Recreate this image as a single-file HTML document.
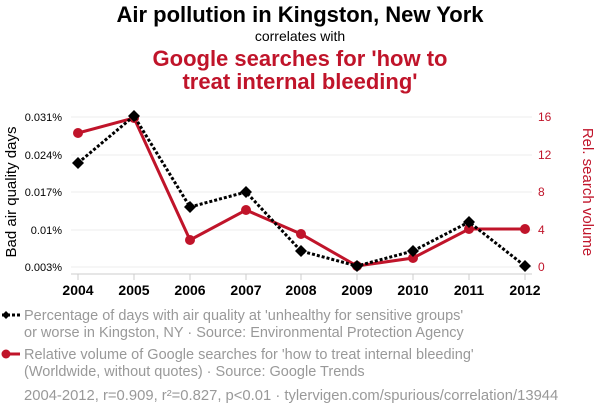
<!DOCTYPE html><html><head><style>body{margin:0;background:#fff;font-family:"Liberation Sans",sans-serif}</style></head><body>
<svg width="600" height="414" xmlns="http://www.w3.org/2000/svg" font-family="Liberation Sans, sans-serif">
<text x="300" y="22" font-size="22" font-weight="bold" text-anchor="middle">Air pollution in Kingston, New York</text>
<text x="300" y="41" font-size="14" text-anchor="middle">correlates with</text>
<text x="300" y="66" font-size="22" font-weight="bold" fill="#c0142a" text-anchor="middle">Google searches for 'how to</text>
<text x="300" y="89" font-size="22" font-weight="bold" fill="#c0142a" text-anchor="middle">treat internal bleeding'</text>
<g stroke="#eee" stroke-width="1"><line x1="71" x2="532" y1="117" y2="117"/><line x1="71" x2="532" y1="155" y2="155"/><line x1="71" x2="532" y1="192" y2="192"/><line x1="71" x2="532" y1="230" y2="230"/><line x1="71" x2="532" y1="267" y2="267"/></g>
<line x1="71" x2="532" y1="274" y2="274" stroke="#ccc"/>
<g stroke="#ccc"><line x1="78" x2="78" y1="274" y2="280"/><line x1="134" x2="134" y1="274" y2="280"/><line x1="190" x2="190" y1="274" y2="280"/><line x1="246" x2="246" y1="274" y2="280"/><line x1="301" x2="301" y1="274" y2="280"/><line x1="357" x2="357" y1="274" y2="280"/><line x1="413" x2="413" y1="274" y2="280"/><line x1="469" x2="469" y1="274" y2="280"/><line x1="525" x2="525" y1="274" y2="280"/></g>
<g font-size="14" font-weight="bold" text-anchor="middle"><text x="78" y="295">2004</text><text x="134" y="295">2005</text><text x="190" y="295">2006</text><text x="246" y="295">2007</text><text x="301" y="295">2008</text><text x="357" y="295">2009</text><text x="413" y="295">2010</text><text x="469" y="295">2011</text><text x="525" y="295">2012</text></g>
<g font-size="11" text-anchor="end"><text x="62" y="121">0.031%</text><text x="62" y="159">0.024%</text><text x="62" y="196">0.017%</text><text x="62" y="234">0.01%</text><text x="62" y="271">0.003%</text></g>
<g font-size="12" fill="#c0142a"><text x="538" y="121">16</text><text x="538" y="159">12</text><text x="538" y="196">8</text><text x="538" y="234">4</text><text x="538" y="271">0</text></g>
<text transform="translate(16,192) rotate(-90)" font-size="15" text-anchor="middle">Bad air quality days</text>
<text transform="translate(583,192) rotate(90)" font-size="15" fill="#c0142a" text-anchor="middle">Rel. search volume</text>
<polyline fill="none" stroke="#c0142a" stroke-width="3" points="78,133 134,118 190,240 246,210 301,234 357,266 413,258 469,229 525,229"/>
<g fill="#c0142a"><circle cx="78" cy="133" r="5"/><circle cx="134" cy="118" r="5"/><circle cx="190" cy="240" r="5"/><circle cx="246" cy="210" r="5"/><circle cx="301" cy="234" r="5"/><circle cx="357" cy="266" r="5"/><circle cx="413" cy="258" r="5"/><circle cx="469" cy="229" r="5"/><circle cx="525" cy="229" r="5"/></g>
<polyline fill="none" stroke="#000" stroke-width="3" stroke-dasharray="3,2" points="78,163 134,116 190,207 246,192 301,251 357,266 413,251 469,222 525,266"/>
<g fill="#000"><path d="M78,157l6,6-6,6-6-6z"/><path d="M134,110l6,6-6,6-6-6z"/><path d="M190,201l6,6-6,6-6-6z"/><path d="M246,186l6,6-6,6-6-6z"/><path d="M301,245l6,6-6,6-6-6z"/><path d="M357,260l6,6-6,6-6-6z"/><path d="M413,245l6,6-6,6-6-6z"/><path d="M469,216l6,6-6,6-6-6z"/><path d="M525,260l6,6-6,6-6-6z"/></g>
<line x1="2" x2="20" y1="315" y2="315" stroke="#000" stroke-width="3" stroke-dasharray="3,2"/><path d="M6,311l4,4-4,4-4-4z"/>
<g font-size="14.5" fill="#999"><text x="24" y="320">Percentage of days with air quality at 'unhealthy for sensitive groups'</text><text x="24" y="337">or worse in Kingston, NY · Source: Environmental Protection Agency</text>
<text x="24" y="359">Relative volume of Google searches for 'how to treat internal bleeding'</text><text x="24" y="376">(Worldwide, without quotes) · Source: Google Trends</text>
<text x="24" y="400" font-size="14.8">2004-2012, r=0.909, r²=0.827, p&lt;0.01 · tylervigen.com/spurious/correlation/13944</text></g>
<line x1="2" x2="20" y1="354" y2="354" stroke="#c0142a" stroke-width="3"/><circle cx="6" cy="354" r="4.5" fill="#c0142a"/>
</svg></body></html>
